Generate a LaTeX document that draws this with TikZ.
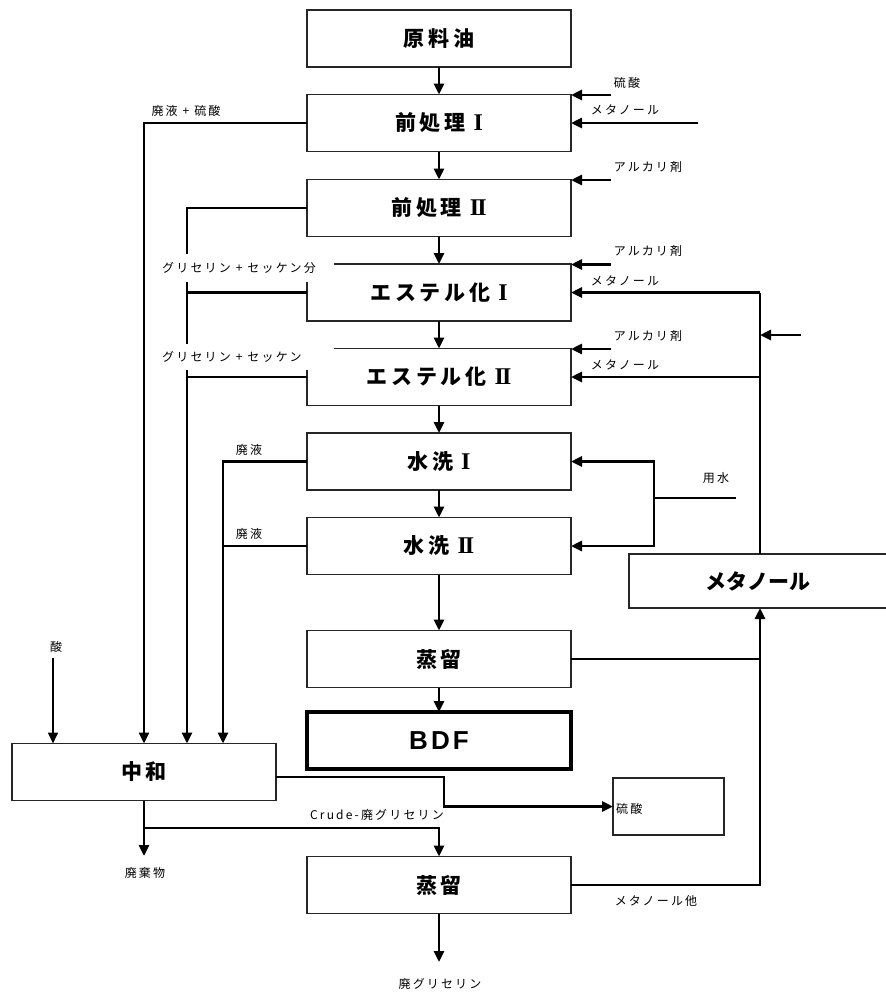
\documentclass[tikz,border=0pt]{standalone}
\usepackage{fontspec}
\newfontfamily\jpH{Noto Sans CJK JP}[LetterSpace=18]
\newfontfamily\jpM{Noto Sans CJK JP}
\newfontfamily\jpL{Noto Sans CJK JP}[LetterSpace=18]
\newfontfamily\latB{Liberation Sans}[LetterSpace=12]
\newfontfamily\romn{Liberation Serif}
\newcommand{\rI}{\hspace{8pt}{\romn\bfseries\fontsize{24}{26}\selectfont I}}
\newcommand{\rII}{\hspace{8pt}{\romn\bfseries\fontsize{24}{26}\selectfont I\kern-2pt I}}
\newcommand{\pl}{\hspace{5pt}+\hspace{5pt}}
\usetikzlibrary{arrows.meta}
\tikzset{
 box/.style={draw=black!85, line width=1.5pt, minimum width=264pt, minimum height=57pt,
   inner sep=0pt, outer sep=0pt, font=\jpH\bfseries\fontsize{21}{24}\selectfont},
 flow/.style={line width=2.7pt, -{Triangle[length=11pt,width=10pt]}},
 pipe/.style={line width=2.7pt},
 thinflow/.style={line width=1.6pt, -{Triangle[length=11pt,width=10pt]}},
 lbl/.style={font=\jpL\fontsize{12}{14}\selectfont, inner sep=1pt},
 glabel/.style={lbl, fill=white, anchor=west, text width=169pt, align=left, inner xsep=3pt, inner ysep=0pt},
}
\begin{document}
\begin{tikzpicture}[x=1pt,y=-1pt]
\useasboundingbox (0,0) rectangle (886,994);
\clip (0,0) rectangle (886,994);
\fill[white] (0,0) rectangle (886,994);
% boxes
\node[box] (raw) at (439,38.5) {原料油};
\node[box] (pre1) at (439,123) {前処理\rI};
\node[box] (pre2) at (439,208) {前処理\rII};
\node[box] (est1) at (439,292.5) {エステル化\rI};
\node[box] (est2) at (439,377) {エステル化\rII};
\node[box] (w1) at (439,461.5) {水洗\rI};
\node[box] (w2) at (439,546) {水洗\rII};
\node[box] (d1) at (439,659) {蒸留};
\node[box, draw=black, line width=3.5pt, font=\latB\bfseries\fontsize{26}{30}\selectfont] (bdf) at (439,740.5) {BDF};
\node[box] (neut) at (144,772) {中和};
\node[box, minimum width=111pt] (sb) at (668.5,806.5) {};
\node[lbl, anchor=west] (sbt) at (615,809) {硫酸};
\node[box] (d2) at (439,885) {蒸留};
\node[box, minimum width=261pt, minimum height=54pt] (meth) at (759.5,581) {};
\node[font=\jpM\bfseries\fontsize{21}{24}\selectfont, inner sep=0pt] (metht) at (758,581) {メタノール};
% main column
\draw[flow] (raw) -- (pre1);
\draw[flow] (pre1) -- (pre2);
\draw[flow] (pre2) -- (est1);
\draw[flow] (est1) -- (est2);
\draw[flow] (est2) -- (w1);
\draw[flow] (w1) -- (w2);
\draw[flow] (w2) -- (d1);
\draw[flow] (d1) -- (bdf);
% left side outputs
\coordinate (L1) at (144,123);
\coordinate (L2) at (187,208);
\coordinate (L3) at (223,461.5);
\draw[flow] (pre1.west) -- (L1) -- (L1 |- neut.north);
\draw[flow] (pre2.west) -- (L2) -- (L2 |- neut.north);
\draw[pipe] (est1.west) -- (est1.west -| L2);
\draw[pipe] (est2.west) -- (est2.west -| L2);
\draw[flow] (w1.west) -- (L3) -- (L3 |- neut.north);
\draw[pipe] (w2.west) -- (w2.west -| L3);
\node[lbl] (lab1) at (186,111) {廃液\pl 硫酸};
\node[lbl] (lab2) at (249,450) {廃液};
\node[lbl] (lab3) at (249,534) {廃液};
\node[lbl] (acid) at (56,647) {酸};
\coordinate (acidS) at (53,658);
\draw[thinflow] (acidS) -- (acidS |- neut.north);
% right side inputs
\coordinate (rA) at (611,95);
\draw[flow] (rA) -- (rA -| pre1.east);
\node[lbl] (lr1) at (627,83) {硫酸};
\coordinate (rM) at (698,123);
\draw[flow] (rM) -- (pre1.east);
\node[lbl] (lr2) at (625,110) {メタノール};
\coordinate (rB) at (611,180);
\draw[flow] (rB) -- (rB -| pre2.east);
\node[lbl] (lr3) at (648,167) {アルカリ剤};
\coordinate (rC) at (611,264.5);
\draw[flow] (rC) -- (rC -| est1.east);
\node[lbl] (lr4) at (648,251) {アルカリ剤};
\coordinate (mv) at (760,292.5);
\draw[flow] (mv) -- (est1.east);
\node[lbl] (lr5) at (625,281) {メタノール};
\coordinate (rD) at (611,349);
\draw[flow] (rD) -- (rD -| est2.east);
\node[lbl] (lr6) at (648,336) {アルカリ剤};
\draw[flow] (mv |- est2.east) -- (est2.east);
\node[lbl] (lr7) at (625,365) {メタノール};
\draw[pipe] (mv) -- (mv |- meth.north);
\coordinate (mk) at (801,335);
\draw[flow] (mk) -- (mk -| mv);
% water
\coordinate (wa) at (736,498);
\coordinate (wb) at (654,498);
\draw[pipe] (wa) -- (wb);
\draw[flow] (wb) -- (wb |- w1.east) -- (w1.east);
\draw[flow] (wb) -- (wb |- w2.east) -- (w2.east);
\node[lbl] (water) at (716,478) {用水};
% methanol recovery
\draw[pipe] (d1.east) -- (d1.east -| mv);
\draw[flow] (d2.east) -- (d2.east -| mv) -- (mv |- meth.south);
\node[lbl] (lr8) at (656,901) {メタノール他};
% neutralisation outputs
\coordinate (nj) at (444,777);
\draw[flow] (neut.east |- nj) -- (nj) -- (nj |- sb.west) -- (sb.west);
\coordinate (waste) at (144,856);
\draw[flow] (neut.south) -- (waste);
\node[lbl] (wl) at (145,873) {廃棄物};
\coordinate (nb) at (144,828);
\draw[flow] (nb) -- (nb -| d2.north) -- (d2.north);
\node[lbl] (crude) at (377,815) {Crude-廃グリセリン};
\coordinate (gly) at (439,962);
\draw[flow] (d2.south) -- (gly);
\node[lbl] (gl) at (440,984) {廃グリセリン};
% labels with white background
\node[glabel, minimum height=28pt] (g1) at (159,268) {グリセリン\pl セッケン分};
\node[glabel, minimum height=26pt] (g2) at (159,357) {グリセリン\pl セッケン};
\end{tikzpicture}
\end{document}
